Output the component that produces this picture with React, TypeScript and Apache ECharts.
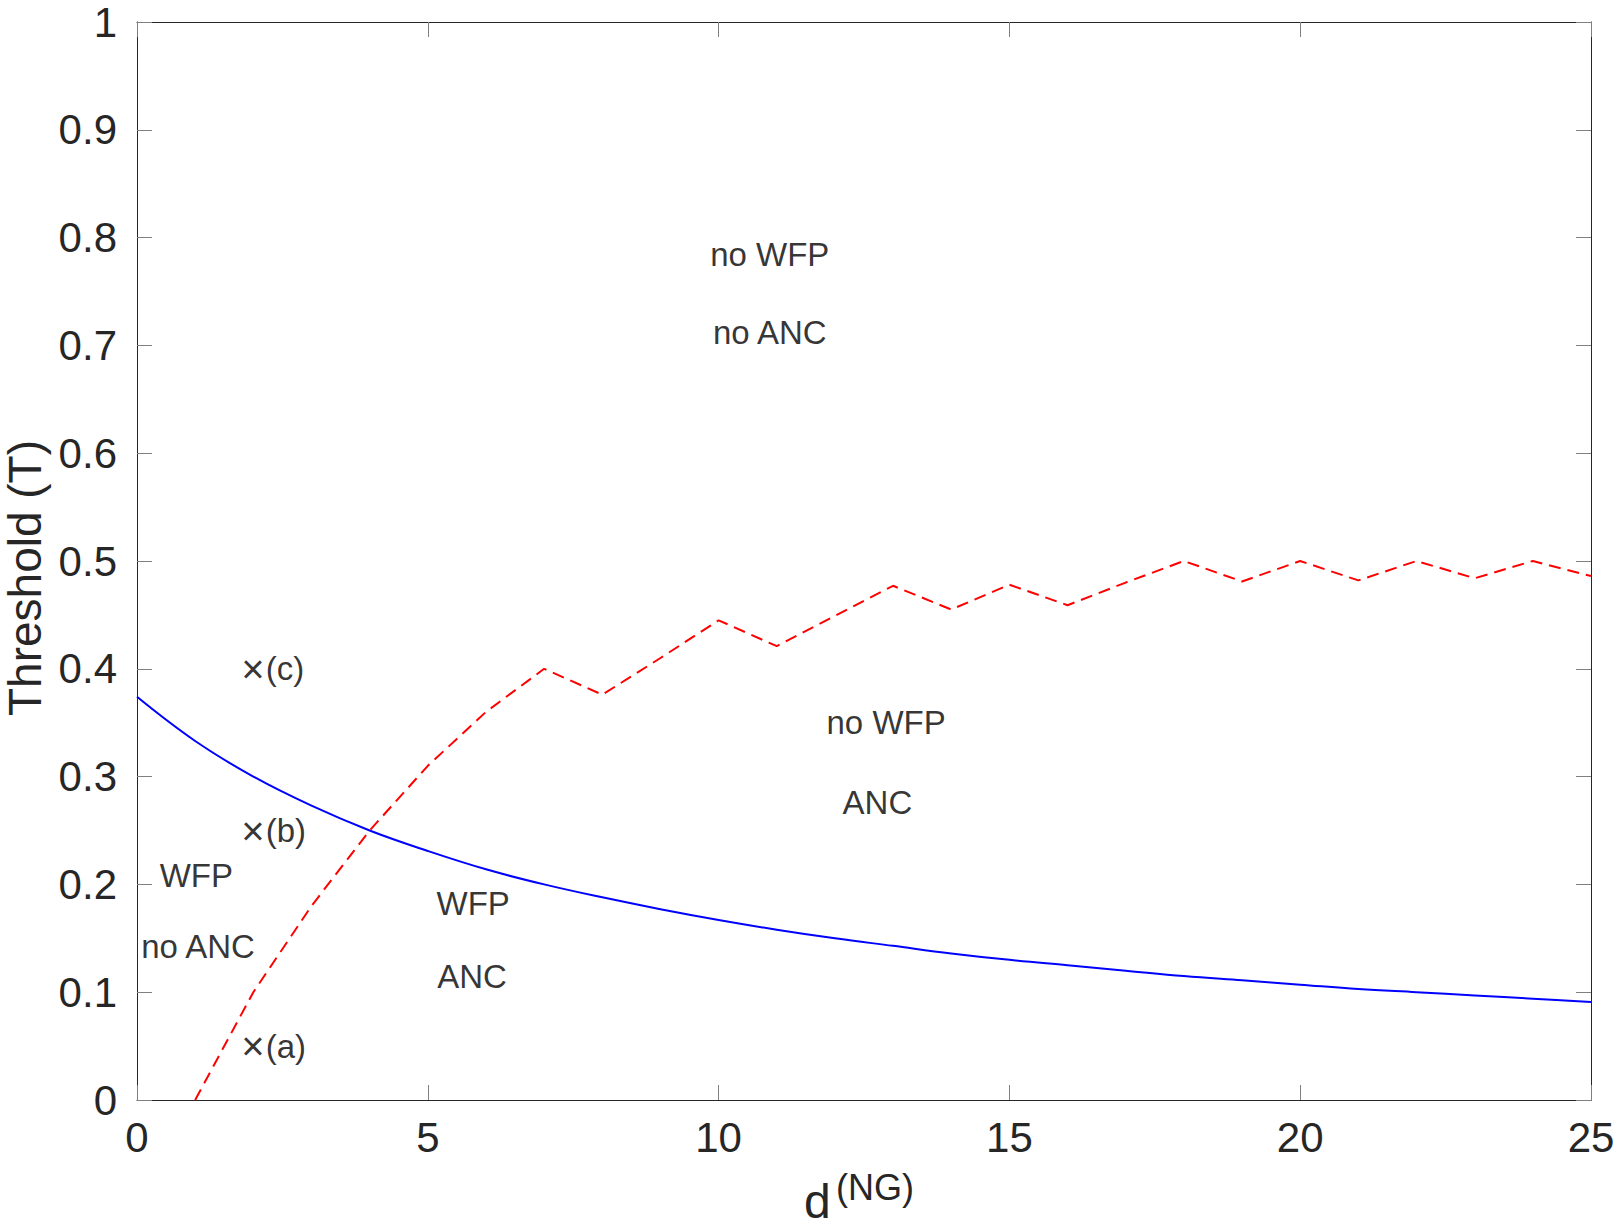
import React, { useEffect, useRef } from "react";
import * as echarts from "echarts";

// d^(NG) sample positions
const dValues = [0, 1, 2, 3, 4, 5, 6, 7, 8, 9, 10, 11, 12, 13, 14, 15, 16, 17, 18, 19, 20, 21, 22, 23, 24, 25];
// blue solid curve (WFP threshold)
const wfpThreshold = [0.374, 0.333, 0.3, 0.273, 0.25, 0.231, 0.214, 0.2, 0.188, 0.177, 0.167, 0.158, 0.15, 0.143, 0.136, 0.13, 0.125, 0.12, 0.115, 0.111, 0.107, 0.103, 0.1, 0.097, 0.094, 0.091];
// red dashed curve (ANC threshold), starts at d = 1
const ancD = [1, 2, 3, 4, 5, 6, 7, 8, 9, 10, 11, 12, 13, 14, 15, 16, 17, 18, 19, 20, 21, 22, 23, 24, 25];
const ancThreshold = [0, 0.1, 0.18, 0.25, 0.31, 0.36, 0.4, 0.376, 0.41, 0.445, 0.421, 0.449, 0.477, 0.455, 0.478, 0.459, 0.48, 0.5, 0.481, 0.5, 0.482, 0.5, 0.484, 0.5, 0.486];

// marked example points
const markerNames = ["(a)", "(b)", "(c)"];
const markerD = [2, 2, 2];
const markerT = [0.05, 0.25, 0.4];

// region annotations (centre positions in data units)
const regionTexts = ["no WFP", "no ANC", "no WFP", "ANC", "WFP", "no ANC", "WFP", "ANC"];
const regionD = [10.88, 10.88, 12.88, 12.73, 1.02, 1.05, 5.78, 5.76];
const regionT = [0.784, 0.712, 0.35, 0.276, 0.208, 0.142, 0.182, 0.115];

const xTicks = { min: 0, max: 25, interval: 5 };
const yTicks = { min: 0, max: 1, interval: 0.1 };
const xAxisTitle = { base: "d", sup: "(NG)" };
const yAxisTitle = "Threshold (T)";

const FONT = "'Liberation Sans', Arial, Helvetica, sans-serif";

export default function App() {
  const ref = useRef<HTMLDivElement>(null);
  useEffect(() => {
    document.body.style.margin = "0";
    const chart = echarts.init(ref.current!, null, { renderer: "svg" });
    const axisLineStyle = { color: "#262626", width: 1 };
    const tickStyle = { color: "#808080", width: 1 };
    const baseX = {
      type: "value" as const,
      min: xTicks.min,
      max: xTicks.max,
      interval: xTicks.interval,
      splitLine: { show: false },
      axisLine: { show: true, onZero: false, lineStyle: axisLineStyle },
      axisTick: { show: true, inside: true, length: 15, lineStyle: tickStyle },
    };
    const baseY = {
      type: "value" as const,
      min: yTicks.min,
      max: yTicks.max,
      interval: yTicks.interval,
      splitLine: { show: false },
      axisLine: { show: true, onZero: false, lineStyle: axisLineStyle },
      axisTick: { show: true, inside: true, length: 15, lineStyle: tickStyle },
    };
    chart.setOption({
      animation: false,
      backgroundColor: "#ffffff",
      textStyle: { fontFamily: FONT },
      grid: { left: 137, right: 28, top: 22, bottom: 128, containLabel: false, outerBoundsMode: "none" },
      graphic: [
        {
          type: "text",
          x: 804,
          y: 1201,
          silent: true,
          style: { text: xAxisTitle.base, font: "48px " + FONT, lineHeight: 36, fill: "#262626", align: "left", verticalAlign: "middle" },
        },
        {
          type: "text",
          x: 836,
          y: 1187,
          silent: true,
          style: { text: xAxisTitle.sup, font: "36px " + FONT, lineHeight: 36, fill: "#262626", align: "left", verticalAlign: "middle" },
        },
      ],
      xAxis: [
        {
          ...baseX,
          position: "bottom",
          axisLabel: { show: true, fontSize: 42, color: "#262626", margin: 16, fontFamily: FONT },
        },
        { ...baseX, position: "top", axisLabel: { show: false } },
      ],
      yAxis: [
        {
          ...baseY,
          position: "left",
          axisLabel: { show: true, fontSize: 42, color: "#262626", margin: 20, fontFamily: FONT },
          name: yAxisTitle,
          nameLocation: "middle",
          nameGap: 86,
          nameTextStyle: { fontSize: 46, color: "#262626", fontFamily: FONT, padding: [0, 34, 0, 0] },
        },
        { ...baseY, position: "right", axisLabel: { show: false } },
      ],
      series: [
        {
          type: "line",
          name: "WFP",
          data: dValues.map((d, i) => [d, wfpThreshold[i]]),
          showSymbol: false,
          symbol: "none",
          smooth: 0.4,
          lineStyle: { color: "#0000ff", width: 2 },
          silent: true,
        },
        {
          type: "line",
          name: "ANC",
          data: ancD.map((d, i) => [d, ancThreshold[i]]),
          showSymbol: false,
          symbol: "none",
          lineStyle: { color: "#ff0000", width: 2, type: [12, 7] },
          silent: true,
        },
        {
          type: "scatter",
          name: "markers",
          symbolSize: 0,
          silent: true,
          data: markerNames.map((n, i) => ({ name: n, value: [markerD[i], markerT[i]] })),
          label: {
            show: true,
            position: "inside",
            align: "left",
            offset: [-12, 0],
            formatter: (p: any) => "{x|×}{t|" + p.name + "}",
            rich: {
              x: { fontSize: 40, color: "#000", fontFamily: FONT, padding: [0, 1, 0, 0] },
              t: { fontSize: 33, color: "#000", fontFamily: FONT },
            },
          },
        },
        {
          type: "scatter",
          name: "regions",
          symbolSize: 0,
          silent: true,
          data: regionTexts.map((n, i) => ({ name: n, value: [regionD[i], regionT[i]] })),
          label: {
            show: true,
            position: "inside",
            formatter: "{b}",
            fontSize: 33,
            color: "#000",
            fontFamily: FONT,
          },
        },
      ],
    });
    return () => chart.dispose();
  }, []);
  return <div ref={ref} style={{ width: 1619, height: 1228 }} />;
}
